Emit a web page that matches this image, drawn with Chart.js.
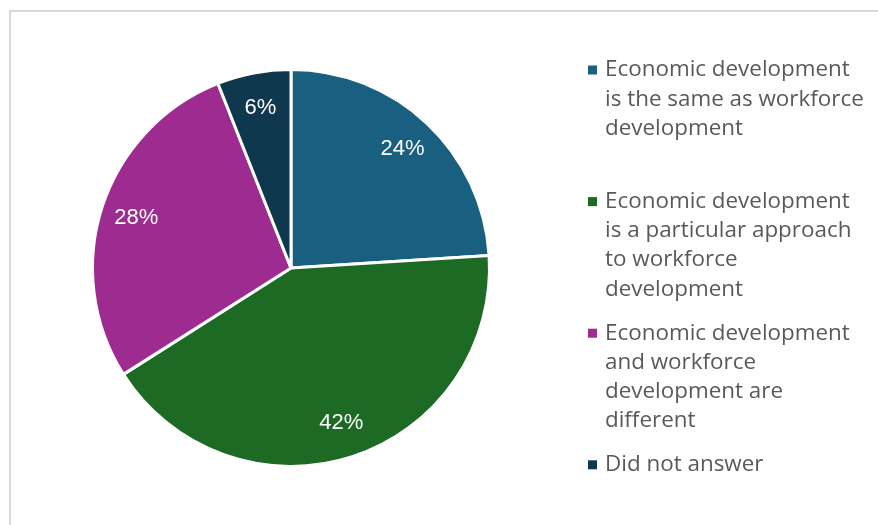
<!DOCTYPE html>
<html>
<head>
<meta charset="utf-8">
<script src="https://cdn.jsdelivr.net/npm/chart.js@4/dist/chart.umd.min.js"></script>
<style>
html,body{margin:0;padding:0;background:#fff;}
#wrap{position:relative;width:878px;height:525px;}
</style>
</head>
<body>
<div id="wrap"><canvas id="c" width="878" height="525"></canvas></div>
<script>
const categories = [
  "Economic development is the same as workforce development",
  "Economic development is a particular approach to workforce development",
  "Economic development and workforce development are different",
  "Did not answer"
];
const values = [24, 42, 28, 6];
const valueLabels = ["24%", "42%", "28%", "6%"];
const colors = ["#185F80", "#1C6A24", "#9E2B8F", "#0F374D"];

const frame = {
  id: 'frame',
  beforeDraw(chart) {
    const ctx = chart.ctx;
    ctx.save();
    ctx.strokeStyle = '#d9d9d9';
    ctx.lineWidth = 2;
    ctx.strokeRect(10, 11, 900, 600);
    ctx.restore();
  }
};

const sliceLabels = {
  id: 'sliceLabels',
  afterDatasetsDraw(chart) {
    const ctx = chart.ctx;
    const meta = chart.getDatasetMeta(0);
    ctx.save();
    ctx.fillStyle = '#ffffff';
    ctx.font = '22px "Liberation Sans", Arial, sans-serif';
    ctx.textAlign = 'center';
    ctx.textBaseline = 'middle';
    meta.data.forEach((arc, i) => {
      const p = arc.getProps(['x','y','startAngle','endAngle','outerRadius'], true);
      const mid = (p.startAngle + p.endAngle) / 2;
      const r = p.outerRadius * 0.82;
      ctx.fillText(valueLabels[i], p.x + Math.cos(mid) * r, p.y + Math.sin(mid) * r);
    });
    ctx.restore();
  }
};

function wrapText(ctx, text, maxW) {
  const words = text.split(' ');
  const lines = [];
  let cur = '';
  words.forEach(w => {
    const t = cur ? cur + ' ' + w : w;
    if (ctx.measureText(t).width > maxW && cur) { lines.push(cur); cur = w; }
    else cur = t;
  });
  if (cur) lines.push(cur);
  return lines;
}

const sideLegend = {
  id: 'sideLegend',
  afterDraw(chart) {
    const ctx = chart.ctx;
    ctx.save();
    const fam = '"Open Sans", "Noto Sans", sans-serif';
    ctx.font = '100px ' + fam;
    const w100 = ctx.measureText('Economic development').width;
    const fs = 100 * 245 / w100;
    ctx.font = fs + 'px ' + fam;
    ctx.textBaseline = 'middle';
    ctx.textAlign = 'left';
    const x0 = 605, y0 = 70, slot = 131.6, lh = 29.2, maxW = 262;
    categories.forEach((cat, i) => {
      const y = y0 + i * slot;
      ctx.fillStyle = colors[i];
      ctx.fillRect(588, y - 4.5, 9, 9);
      ctx.fillStyle = '#595959';
      wrapText(ctx, cat, maxW).forEach((ln, j) => {
        ctx.fillText(ln, x0, y + j * lh);
      });
    });
    ctx.restore();
  }
};

new Chart(document.getElementById('c'), {
  type: 'pie',
  data: {
    labels: categories,
    datasets: [{
      data: values,
      backgroundColor: colors,
      borderColor: '#ffffff',
      borderWidth: 3
    }]
  },
  options: {
    responsive: false,
    animation: false,
    layout: { padding: { left: 91, right: 387, top: 68, bottom: 57 } },
    plugins: {
      legend: { display: false },
      tooltip: { enabled: false },
      title: { display: false }
    }
  },
  plugins: [frame, sliceLabels, sideLegend]
});
</script>
</body>
</html>
